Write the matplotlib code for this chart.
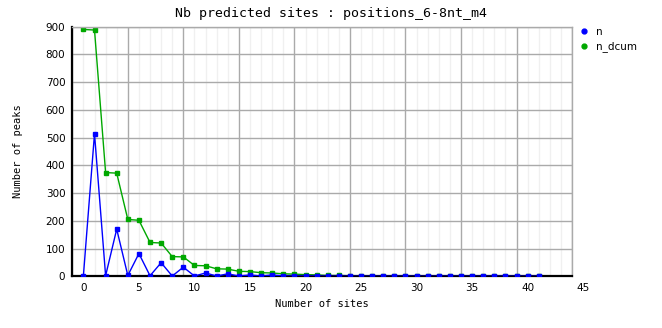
import numpy as np
import matplotlib.pyplot as plt
from matplotlib.lines import Line2D

# number of sites per peak (0..41)
sites = list(range(42))
n = [2, 514, 2, 170, 3, 82, 2, 49, 1, 33, 1, 12, 1, 9, 1, 5, 1, 5, 1, 1,
     1, 1, 0, 0, 0, 0, 0, 0, 0, 0, 0, 0, 0, 0, 0, 0, 0, 0, 0, 0, 0, 0]
n_dcum = [890, 888, 374, 372, 205, 202, 122, 120, 71, 70, 39, 38, 27, 26,
          18, 17, 13, 12, 9, 8, 6, 5, 3, 3, 2, 2, 2, 2, 2, 2, 2, 2, 2, 2,
          2, 2, 2, 2, 2, 2, 2, 2]

x_labels = [0, 5, 10, 15, 20, 25, 30, 35, 40, 45]
y_ticks = [0, 100, 200, 300, 400, 500, 600, 700, 800, 900]

blue = '#0000ff'
green = '#00a800'
major_grid = '#aaaaaa'
minor_grid = '#f0f0f0'

fig = plt.figure(figsize=(6.62, 3.28), dpi=100)
ax = fig.add_axes([0.1092, 0.1576, 0.7549, 0.761])

ax.set_xlim(-1, 44)
ax.set_ylim(0, 900)

# grid like the original: major verticals every 5 starting at the left edge
ax.set_xticks(np.arange(-1, 45, 5))
ax.set_xticks(np.arange(-1, 45, 1), minor=True)
ax.set_yticks(y_ticks)
ax.set_axisbelow(True)
ax.grid(which='minor', axis='x', color=minor_grid, lw=1)
ax.grid(which='major', color=major_grid, lw=1)

ax.tick_params(which='both', length=0)
ax.tick_params(axis='x', labelbottom=False)
ax.tick_params(axis='y', labelsize=7.5, pad=5)

for v in x_labels:
    ax.text(v, -0.048, str(v), transform=ax.get_xaxis_transform(),
            ha='center', va='center', fontsize=7.5)

for side in ['left', 'bottom']:
    ax.spines[side].set_color('black')
    ax.spines[side].set_linewidth(1.6)
for side in ['top', 'right']:
    ax.spines[side].set_color(major_grid)
    ax.spines[side].set_linewidth(1)

ax.plot(sites, n, color=blue, lw=1, marker='s', ms=2.8, zorder=3)
ax.plot(sites, n_dcum, color=green, lw=1, marker='s', ms=2.8, zorder=2)

fig.text(0.5, 1 - 14 / 328, 'Nb predicted sites : positions_6-8nt_m4',
         ha='center', va='center', fontsize=9.5, family='DejaVu Sans Mono')
ax.set_xlabel('Number of sites', fontsize=7.5, family='DejaVu Sans Mono')
ax.set_ylabel('Number of peaks', fontsize=7.5, family='DejaVu Sans Mono')
ax.xaxis.set_label_coords(0.5, -0.091)
ax.yaxis.set_label_coords(-0.098, 0.5)

handles = [Line2D([], [], color=blue, marker='o', ls='none', ms=3.5),
           Line2D([], [], color=green, marker='o', ls='none', ms=3.5)]
fig.legend(handles, ['n', 'n_dcum'], loc='upper left',
           bbox_to_anchor=(580 / 662, 1 - 27 / 328), frameon=False,
           fontsize=7.5, handlelength=0.8, handletextpad=0.7,
           labelspacing=0.4, borderaxespad=0, borderpad=0)

fig.savefig('out.png', dpi=100)
